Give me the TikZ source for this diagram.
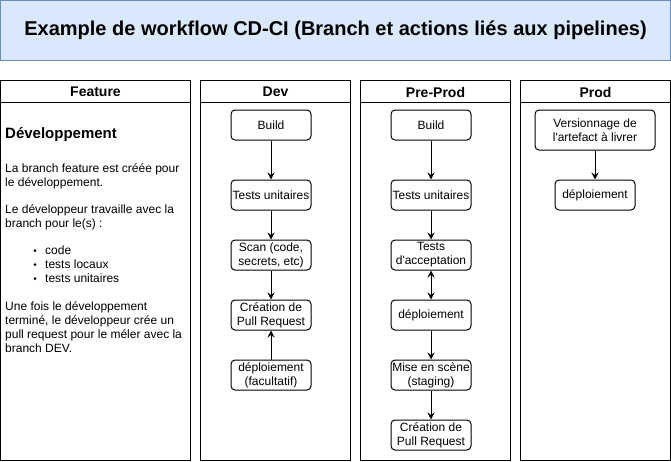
\documentclass[tikz,border=0pt]{standalone}
\usepackage{fontspec}
\setmainfont{Liberation Sans}
\newfontfamily\plainsans{Liberation Sans}
\usetikzlibrary{arrows.meta}
\definecolor{titlefill}{HTML}{DAE8FC}
\definecolor{titledraw}{HTML}{6C8EBF}
\newcommand{\sq}{{\plainsans\char"27}}
\tikzset{
  lane/.style={draw=black, line width=1pt, fill=white},
  lanehead/.style={font=\fontsize{14}{16}\selectfont\bfseries, anchor=center},
  stepbox/.style={draw=black, line width=1pt, rounded corners=4pt, fill=white,
    minimum width=80pt, minimum height=30pt, inner sep=0pt, align=center,
    font=\fontsize{12}{14}\selectfont},
  conn/.style={line width=1pt, -{Stealth[length=7pt,width=7pt,inset=2.5pt]}},
  conn2/.style={line width=1pt, {Stealth[length=7pt,width=7pt,inset=2.5pt]}-{Stealth[length=7pt,width=7pt,inset=2.5pt]}},
  ftxt/.style={anchor=base west, inner sep=0pt, font=\fontsize{12}{14}\selectfont},
}
\begin{document}
\begin{tikzpicture}[x=1pt,y=-1pt]
\useasboundingbox (0,0) rectangle (671,461);
% title
\node[draw=titledraw, fill=titlefill, line width=1pt, minimum width=670pt, minimum height=60pt, inner sep=0pt,
  font=\fontsize{20}{24}\selectfont\bfseries] (title) at (335.5,30.5) {Example de workflow CD-CI (Branch et actions liés aux pipelines)};
% lanes
\draw[lane] (0.5,80.5) rectangle (190.5,460.5);
\draw[line width=1pt] (0.5,102.5) -- (190.5,102.5);
\draw[lane] (200.5,80.5) rectangle (350.5,460.5);
\draw[line width=1pt] (200.5,102.5) -- (350.5,102.5);
\draw[lane] (360.5,80.5) rectangle (510.5,460.5);
\draw[line width=1pt] (360.5,102.5) -- (510.5,102.5);
\draw[lane] (520.5,80.5) rectangle (670.5,460.5);
\draw[line width=1pt] (520.5,102.5) -- (670.5,102.5);
\node[lanehead] (hfeat) at (95.5,92) {Feature};
\node[lanehead] (hdev) at (275.5,92) {Dev};
\node[lanehead] (hpre) at (435.5,92) {Pre-Prod};
\node[lanehead] (hprod) at (595.5,92) {Prod};
% feature text
\node[anchor=base west, inner sep=0pt, font=\fontsize{15}{18}\selectfont\bfseries] (fhead) at (5,138) {Développement};
\node[ftxt] (f1) at (5,172.5) {La branch feature est créée pour};
\node[ftxt] (f2) at (5,186.5) {le développement.};
\node[ftxt] (f3) at (5,213.5) {Le développeur travaille avec la};
\node[ftxt] (f4) at (5,227.5) {branch pour le(s) :};
\node[ftxt] (b1) at (45,254.5) {code};
\node[ftxt] (b2) at (45,268.5) {tests locaux};
\node[ftxt] (b3) at (45,282.5) {tests unitaires};
\fill (35,250.5) circle (1.5pt);
\fill (35,264.5) circle (1.5pt);
\fill (35,278.5) circle (1.5pt);
\node[ftxt] (f5) at (5,310) {Une fois le développement};
\node[ftxt] (f6) at (5,324) {terminé, le développeur crée un};
\node[ftxt] (f7) at (5,338) {pull request pour le méler avec la};
\node[ftxt] (f8) at (5,352) {branch DEV.};
% Dev
\node[stepbox] (d1) at (271,125) {Build};
\node[stepbox] (d2) at (271,195) {Tests unitaires};
\node[stepbox] (d3) at (271,255) {Scan (code,\\secrets, etc)};
\node[stepbox] (d4) at (271,315) {Création de\\Pull Request};
\node[stepbox] (d5) at (271,375) {déploiement\\(facultatif)};
\draw[conn] (d1) -- (d2);
\draw[conn] (d2) -- (d3);
\draw[conn] (d3) -- (d4);
\draw[conn] (d5) -- (d4);
% Pre-Prod
\node[stepbox] (p1) at (431,125) {Build};
\node[stepbox] (p2) at (431,195) {Tests unitaires};
\node[stepbox] (p3) at (431,255) {Tests\\d\sq acceptation};
\node[stepbox] (p4) at (431,315) {déploiement};
\node[stepbox] (p5) at (431,375) {Mise en scène\\(staging)};
\node[stepbox] (p6) at (431,435) {Création de\\Pull Request};
\draw[conn] (p1) -- (p2);
\draw[conn] (p2) -- (p3);
\draw[conn2] (p3) -- (p4);
\draw[conn] (p4) -- (p5);
\draw[conn] (p5) -- (p6);
% Prod
\node[stepbox, minimum width=120pt, minimum height=40pt] (r1) at (595,130) {Versionnage de\\l\sq artefact à livrer};
\node[stepbox] (r2) at (595,195) {déploiement};
\draw[conn] (r1) -- (r2);
\end{tikzpicture}
\end{document}
